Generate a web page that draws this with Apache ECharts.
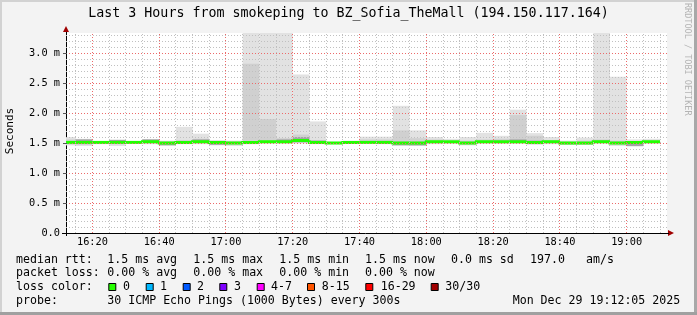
<!DOCTYPE html>
<html><head><meta charset="utf-8">
<script src="https://cdn.jsdelivr.net/npm/echarts@6/dist/echarts.min.js"></script>
<style>html,body{margin:0;padding:0;background:#f3f3f3}#c{width:697px;height:315px}</style>
</head><body><div id="c"></div>
<script>
// ---- data (5-minute intervals, labelled by interval end time) ----
const intervalEnds = ['16:15','16:20','16:25','16:30','16:35','16:40','16:45','16:50','16:55','17:00','17:05','17:10',
  '17:15','17:20','17:25','17:30','17:35','17:40','17:45','17:50','17:55','18:00','18:05','18:10',
  '18:15','18:20','18:25','18:30','18:35','18:40','18:45','18:50','18:55','19:00','19:05','19:10'];
// values in ms
const smokeMax = [1.60,1.57,1.53,1.56,1.53,1.56,1.54,1.77,1.655,1.55,1.54,3.60,
  3.60,3.60,2.64,1.86,1.52,1.54,1.605,1.605,2.12,1.71,1.60,1.57,
  1.60,1.67,1.62,2.055,1.665,1.60,1.54,1.59,3.60,2.605,1.56,1.57];
const smokeMin = [1.46,1.45,1.48,1.45,1.49,1.48,1.46,1.48,1.48,1.46,1.45,1.48,
  1.49,1.49,1.49,1.48,1.48,1.49,1.49,1.48,1.46,1.45,1.48,1.49,
  1.46,1.49,1.49,1.49,1.47,1.48,1.47,1.47,1.49,1.45,1.44,1.49];
const innerHi = [1.56,1.56,1.52,1.55,1.52,1.56,1.52,1.55,1.57,1.53,1.52,2.82,
  1.90,1.58,1.64,1.55,1.51,1.52,1.56,1.56,1.71,1.58,1.56,1.54,
  1.54,1.56,1.57,1.965,1.62,1.55,1.52,1.54,1.56,1.54,1.53,1.54];
const innerLo = [1.48,1.47,1.49,1.48,1.50,1.50,1.47,1.49,1.50,1.47,1.47,1.50,
  1.50,1.50,1.51,1.50,1.49,1.50,1.50,1.49,1.48,1.47,1.50,1.50,
  1.48,1.50,1.50,1.50,1.49,1.50,1.48,1.48,1.50,1.48,1.46,1.50];
const coreHi = [1.53,1.56,1.52,1.55,1.52,1.56,1.52,1.53,1.56,1.52,1.52,1.53,
  1.53,1.56,1.60,1.54,1.51,1.52,1.53,1.53,1.52,1.52,1.53,1.53,
  1.52,1.53,1.54,1.56,1.54,1.53,1.51,1.51,1.54,1.52,1.52,1.53];
const coreLo = [1.49,1.49,1.50,1.49,1.50,1.50,1.46,1.49,1.50,1.47,1.49,1.49,
  1.50,1.50,1.51,1.49,1.49,1.50,1.50,1.49,1.46,1.46,1.50,1.51,
  1.48,1.51,1.50,1.50,1.49,1.50,1.48,1.48,1.50,1.48,1.45,1.50];
const median = [1.51,1.51,1.51,1.51,1.51,1.52,1.50,1.51,1.52,1.51,1.50,1.51,
  1.52,1.52,1.54,1.51,1.50,1.51,1.51,1.51,1.50,1.50,1.52,1.52,
  1.50,1.52,1.52,1.52,1.51,1.52,1.50,1.50,1.52,1.50,1.51,1.52];
const stepMinutes = 5;
const axisStart = '16:12:05', axisEnd = '19:12:05';
const xTickLabels = ['16:20','16:40','17:00','17:20','17:40','18:00','18:20','18:40','19:00'];
const yTickLabels = ['0.0','0.5 m','1.0 m','1.5 m','2.0 m','2.5 m','3.0 m'];
const lossLabels = ['0','1','2','3','4-7','8-15','16-29','30/30'];
const lossColors = ['#26ff00','#00b8ff','#0059ff','#7e00ff','#ff00ff','#ff5500','#ff0000','#a10000'];
const title = 'Last 3 Hours from smokeping to BZ_Sofia_TheMall (194.150.117.164)';
const statLines = [
  ['median rtt:', ['1.5 ms avg','1.5 ms max','1.5 ms min','1.5 ms now','0.0 ms sd','197.0','am/s']],
  ['packet loss:', ['0.00 % avg','0.00 % max','0.00 % min','0.00 % now']]
];
const probeText = '30 ICMP Echo Pings (1000 Bytes) every 300s';
const dateText = 'Mon Dec 29 19:12:05 2025';

// ---- helpers ----
const toMin = s => { const p = s.split(':').map(Number); return p[0]*60 + p[1] + (p[2]||0)/60; };
const xMin = toMin(axisStart), xMax = toMin(axisEnd);
const yMax = 10/3;
const fmtTime = v => { const h = Math.floor(v/60), m = Math.round(v - h*60); return h + ':' + String(m).padStart(2,'0'); };
const ends = intervalEnds.map(toMin);

function bandData(lo, hi){ return ends.map((e,i)=>[e-stepMinutes, e, lo[i], hi[i]]); }
function rectRender(color){
  return function(params, api){
    const p1 = api.coord([api.value(0), api.value(3)]);
    const p2 = api.coord([api.value(1), api.value(2)]);
    const cs = params.coordSys;
    const shape = echarts.graphic.clipRectByRect(
      {x:p1[0], y:p1[1], width:p2[0]-p1[0], height:p2[1]-p1[1]},
      {x:cs.x, y:cs.y, width:cs.width, height:cs.height});
    return shape && {type:'rect', shape, style:{fill:color}};
  };
}
function smokeSeries(lo, hi, color, z){
  return {type:'custom', renderItem: rectRender(color), data: bandData(lo,hi),
    encode:{x:[0,1], y:[2,3]}, z, silent:true, animation:false};
}
// median: step segments [start, end, value, previous value]
const medianData = ends.map((e,i)=>[e-stepMinutes, e, median[i], i ? median[i-1] : median[i]]);
function medianRender(params, api){
  const s = Math.max(api.value(0), xMin), e = api.value(1);
  const a = api.coord([s, api.value(3)]);
  const b = api.coord([s, api.value(2)]);
  const c = api.coord([e, api.value(2)]);
  return {type:'polyline', shape:{points:[a,b,c]}, style:{stroke:'#22ff00', lineWidth:3, fill:null, lineJoin:'miter', lineCap:'butt'}};
}

// grid line positions: [x, y]
const vMinor = [], vMajor = [], hMinor = [], hMajor = [];
for (let t = toMin(intervalEnds[0]); t <= xMax; t += stepMinutes) {
  (xTickLabels.includes(fmtTime(t)) ? vMajor : vMinor).push([t, 0]);
}
for (let k = 1; k <= 33; k++) (k % 5 === 0 ? hMajor : hMinor).push([xMin, k/10]);

function vRender(color){
  return function(params, api){
    const v = api.value(0);
    const p = api.coord([v, 0]), q = api.coord([v, yMax]);
    const x = Math.floor(p[0]) + 0.5;
    return {type:'line', shape:{x1:x, y1:p[1], x2:x, y2:q[1]}, style:{stroke:color, lineWidth:1, lineDash:[1,2]}};
  };
}
function hRender(color, tick){
  return function(params, api){
    const v = api.value(1);
    const p = api.coord([xMin, v]), q = api.coord([xMax, v]);
    const y = Math.round(p[1]) + 0.5;
    const children = [{type:'line', shape:{x1:p[0], y1:y, x2:q[0], y2:y}, style:{stroke:color, lineWidth:1, lineDash:[1,2]}}];
    if (tick) children.push({type:'line', shape:{x1:p[0]-3, y1:y, x2:p[0]+1, y2:y}, style:{stroke:'#555', lineWidth:1}});
    return {type:'group', children};
  };
}
const minorC = '#c0c0c0', majorC = '#ec6a6a';
function gridSeries(data, render, z){
  return {type:'custom', renderItem: render, data, encode:{x:0, y:1}, z, silent:true, animation:false};
}

const mono = 'DejaVu Sans Mono';
const graphics = [];
graphics.push({type:'text', x:348.5, y:14, style:{text:title, font:'13.3px "DejaVu Sans Mono"', fill:'#000', align:'center', verticalAlign:'middle'}});
graphics.push({type:'text', x:10, y:131, rotation:Math.PI/2, style:{text:'Seconds', font:'11px "DejaVu Sans Mono"', fill:'#000', align:'center', verticalAlign:'middle'}});
graphics.push({type:'text', x:687, y:3, rotation:-Math.PI/2, style:{text:'RRDTOOL / TOBI OETIKER', font:'8.5px "DejaVu Sans Mono"', fill:'#b4b4b4', align:'left', verticalAlign:'middle'}});
// arrows and axis lines
graphics.push({type:'polygon', shape:{points:[[63,32],[69,32],[66,26]]}, style:{fill:'#a00000'}});
graphics.push({type:'polygon', shape:{points:[[668,230],[668,236],[674,233]]}, style:{fill:'#a00000'}});
graphics.push({type:'line', shape:{x1:66.5,y1:32,x2:66.5,y2:236}, style:{stroke:'#000',lineWidth:1}});
graphics.push({type:'line', shape:{x1:62,y1:233.5,x2:669,y2:233.5}, style:{stroke:'#000',lineWidth:1}});
// legend text
const colX = [107.3,193.3,279.3,365,451,530,586];
const rowY = [259.7, 273.3, 287.3, 301];
const lf = '11.6px "DejaVu Sans Mono"';
statLines.forEach((row, r) => {
  graphics.push({type:'text', x:16, y:rowY[r], style:{text:row[0], font:lf, fill:'#000', verticalAlign:'middle'}});
  row[1].forEach((t,i)=>graphics.push({type:'text', x:colX[i], y:rowY[r], style:{text:t, font:lf, fill:'#000', verticalAlign:'middle'}}));
});
graphics.push({type:'text', x:16, y:rowY[2], style:{text:'loss color:', font:lf, fill:'#000', verticalAlign:'middle'}});
const sqX = [108.3,145.7,182.7,219.3,256.7,307,365.3,430.7];
const lbX = [123,160,197,234,271,321.7,380.7,445.3];
lossLabels.forEach((l,i)=>{
  graphics.push({type:'rect', shape:{x:sqX[i]+0.5, y:283.5, width:7, height:7}, style:{fill:lossColors[i], stroke:'#000', lineWidth:1}});
  graphics.push({type:'text', x:lbX[i], y:rowY[2], style:{text:l, font:lf, fill:'#000', verticalAlign:'middle'}});
});
graphics.push({type:'text', x:16, y:rowY[3], style:{text:'probe:', font:lf, fill:'#000', verticalAlign:'middle'}});
graphics.push({type:'text', x:107.3, y:rowY[3], style:{text:probeText, font:lf, fill:'#000', verticalAlign:'middle'}});
graphics.push({type:'text', x:512.7, y:rowY[3], style:{text:dateText, font:lf, fill:'#000', verticalAlign:'middle'}});
// frame
graphics.push({type:'rect', shape:{x:0,y:0,width:697,height:2}, style:{fill:'#d2d2d2'}});
graphics.push({type:'rect', shape:{x:0,y:0,width:2,height:315}, style:{fill:'#d2d2d2'}});
graphics.push({type:'rect', shape:{x:694,y:0,width:3,height:315}, style:{fill:'#a8a8a8'}});
graphics.push({type:'rect', shape:{x:0,y:312,width:697,height:3}, style:{fill:'#a0a0a0'}});

const chart = echarts.init(document.getElementById('c'), null, {renderer:'canvas'});
chart.setOption({
  animation:false,
  backgroundColor:'#f3f3f3',
  grid:{left:66, right:30, top:33, bottom:82, show:true, backgroundColor:'#ffffff', borderWidth:0},
  xAxis:{type:'value', min:xMin, max:xMax, splitNumber:9,
    axisLine:{show:false}, axisTick:{show:false}, splitLine:{show:false},
    axisLabel:{margin:4, fontFamily:mono, fontSize:10.3, color:'#000', showMinLabel:false, showMaxLabel:false,
      formatter: v => { const s = fmtTime(v); return (Math.abs(v-Math.round(v))<1e-6 && xTickLabels.includes(s)) ? s : ''; }}},
  yAxis:{type:'value', min:0, max:yMax, interval:0.5,
    axisLine:{show:false}, axisTick:{show:false}, splitLine:{show:false},
    axisLabel:{margin:6, fontFamily:mono, fontSize:10.3, color:'#000',
      formatter: v => { const k = v/0.5; return Math.abs(k-Math.round(k))<1e-6 ? (yTickLabels[Math.round(k)]||'') : ''; }}},
  series:[
    smokeSeries(smokeMin, smokeMax, '#e2e2e2', 2),
    smokeSeries(innerLo, innerHi, '#d0d0d0', 3),
    smokeSeries(coreLo, coreHi, '#a4a4a4', 4),
    {type:'custom', renderItem: medianRender, data: medianData, encode:{x:[0,1], y:[2,3]}, z:5, silent:true, animation:false},
    gridSeries(vMinor, vRender(minorC), 6),
    gridSeries(hMinor, hRender(minorC, false), 6),
    gridSeries(vMajor, vRender(majorC), 7),
    gridSeries(hMajor, hRender(majorC, true), 7)
  ],
  graphic: graphics
});
</script></body></html>
